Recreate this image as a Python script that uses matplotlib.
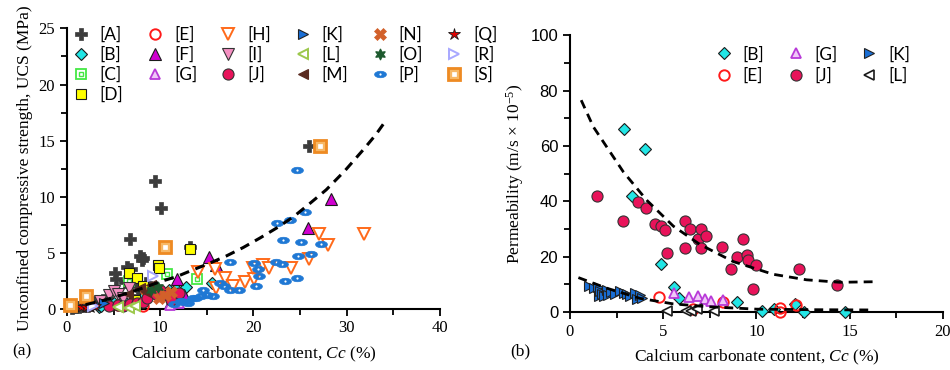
import numpy as np
import matplotlib
matplotlib.use("Agg")
import matplotlib.pyplot as plt
import matplotlib.path as mpath

# ---------------- data, panel (a): UCS vs Cc ----------------
A_x = [0.5, 0.8, 1.0, 1.3, 1.6, 1.9, 2.2, 2.5, 2.8, 3.2, 3.6, 3.9, 4.3, 5.1, 5.3, 6.2, 6.4, 6.9, 6.75, 7.0, 7.5, 7.6, 7.8, 8.0, 8.2, 8.5, 9.4, 10.1, 13.2, 26.0]
A_y = [0.05, 0.1, 0.15, 0.1, 0.2, 0.3, 0.25, 0.35, 0.6, 0.5, 0.55, 0.8, 0.9, 3.2, 2.6, 2.4, 3.75, 3.5, 6.2, 2.9, 2.0, 1.1, 4.7, 4.3, 4.5, 2.3, 11.35, 8.96, 5.5, 14.5]
B_x = [3.4, 3.7, 4.25, 5.0, 5.9, 6.2, 7.0, 8.0, 9.4, 10.9, 11.7, 12.8, 15.5]
B_y = [0.1, 0.25, 0.4, 0.5, 0.6, 0.6, 0.7, 0.9, 1.5, 1.7, 1.75, 1.9, 2.3]
C_x = [6.6, 10.75, 13.9]
C_y = [2.5, 3.1, 2.6]
D_x = [6.6, 7.5, 7.3, 8.2, 9.8, 9.9, 13.2]
D_y = [3.2, 2.7, 0.8, 2.0, 3.9, 3.6, 5.3]
E_x = [5.5, 8.2, 11.4]
E_y = [0.3, 0.25, 0.85]
F_x = [11.0, 11.75, 12.5, 15.2, 16.0, 25.9, 28.3]
F_y = [0.5, 2.6, 1.2, 4.6, 3.9, 7.2, 9.8]
G_x = [11.0, 12.0]
G_y = [0.3, 0.5]
H_x = [8.5, 10.0, 14.0, 15.9, 16.0, 16.9, 17.8, 19.1, 20.1, 20.0, 21.0, 21.7, 24.0, 26.0, 27.0, 28.0, 31.9]
H_y = [1.2, 1.1, 3.3, 3.5, 1.8, 2.7, 2.0, 2.4, 2.6, 3.6, 3.9, 3.6, 3.6, 4.4, 6.7, 5.7, 6.7]
I_x = [3.5, 4.5, 5.0, 5.5, 6.0, 6.6]
I_y = [0.7, 1.2, 1.6, 1.3, 0.9, 1.8]
J_x = [4.5, 5.5, 6.0, 6.8, 7.5, 8.2, 8.6, 9.6, 10.0, 10.7, 11.2, 12.0]
J_y = [0.2, 0.3, 0.25, 0.4, 0.5, 0.6, 0.9, 1.3, 1.7, 1.2, 0.8, 1.4]
K_x = [2.5, 3.2, 4.0]
K_y = [0.3, 0.35, 0.5]
L_x = [5.5, 6.7, 7.3]
L_y = [0.1, 0.05, 0.2]
M_x = [6.5, 7.8, 8.5, 9.0]
M_y = [1.3, 1.8, 1.5, 2.1]
N_x = [9.9, 10.5, 11.2]
N_y = [0.9, 1.2, 1.5]
O_x = [9.0, 9.8]
O_y = [1.7, 1.9]
P_x = [11.5, 12.2, 12.5, 13.0, 13.5, 13.8, 14.4, 14.6, 15.0, 15.7, 16.4, 16.8, 17.5, 17.5, 18.5, 20.1, 20.3, 20.5, 20.6, 22.4, 22.5, 23.1, 23.2, 23.4, 23.9, 24.7, 24.8, 25.1, 25.5, 26.2, 27.2, 24.7]
P_y = [0.4, 0.7, 0.6, 0.5, 0.9, 0.9, 1.1, 1.7, 1.2, 1.1, 2.3, 2.0, 1.7, 4.2, 1.7, 4.05, 2.0, 3.5, 2.9, 4.2, 7.6, 4.0, 6.1, 2.5, 7.9, 2.7, 4.7, 5.9, 8.6, 4.9, 5.8, 12.4]
Q_x = [1.5, 2.0, 2.5, 3.0]
Q_y = [0.1, 0.15, 0.1, 0.2]
R_x = [2.8, 9.25]
R_y = [0.2, 2.9]
S_x = [0.3, 2.0, 10.5, 27.1]
S_y = [0.3, 1.1, 5.5, 14.5]

trend_a_x = [2.0, 4.0, 6.0, 8.0, 10.0, 11.75, 13.5, 15.3, 17.1, 18.9, 20.7, 22.5, 24.3, 26.0, 27.8, 29.8, 31.8, 33.1, 34.3]
trend_a_y = [0.35, 0.75, 1.25, 1.8, 2.4, 2.85, 3.45, 4.05, 4.7, 5.45, 6.3, 7.2, 8.2, 9.35, 10.6, 12.3, 14.2, 15.5, 16.9]

# ---------------- data, panel (b): permeability vs Cc ----------------
Bb_x = [2.89, 3.34, 4.02, 4.89, 5.57, 5.86, 8.93, 10.27, 10.93, 12.09, 12.53, 14.73]
Bb_y = [66.1, 41.9, 58.7, 17.4, 9.1, 4.9, 3.5, 0.4, 1.0, 2.8, 0.0, 0.1]
Eb_x = [4.77, 6.57, 8.21, 11.25, 11.28, 12.1]
Eb_y = [5.5, 1.0, 3.6, 1.5, 0.0, 2.6]
Gb_x = [5.6, 6.36, 6.84, 7.23, 7.54, 8.21]
Gb_y = [6.8, 5.3, 5.8, 4.6, 4.0, 4.2]
Jb_x = [1.46, 2.82, 3.66, 4.07, 4.55, 4.86, 5.12, 5.2, 6.14, 6.14, 6.41, 6.87, 7.03, 7.02, 7.28, 8.14, 8.62, 8.93, 9.28, 9.48, 9.57, 9.98, 9.82, 12.28, 14.3]
Jb_y = [41.9, 33.0, 39.8, 37.7, 31.7, 31.0, 29.6, 21.2, 33.0, 23.2, 29.8, 26.4, 29.8, 23.0, 27.5, 23.6, 15.6, 19.7, 26.5, 20.6, 18.7, 16.9, 8.2, 15.4, 9.8]
Kb_x = [1.0, 1.3, 1.5, 1.55, 1.6, 1.7, 1.85, 2.0, 2.05, 2.2, 2.4, 2.7, 2.9, 3.05, 3.2, 3.5, 3.6, 3.75, 3.85]
Kb_y = [9.3, 8.6, 9.0, 5.6, 7.6, 6.5, 5.8, 7.9, 6.1, 7.2, 6.5, 7.6, 6.8, 6.3, 5.9, 6.9, 4.7, 6.2, 5.1]
Lb_x = [5.2, 6.2, 6.5, 6.8, 7.7]
Lb_y = [0.3, 0.2, 0.5, 0.9, 0.3]

trend_b_hi_x = [0.6, 1.25, 1.96, 2.86, 4.11, 5.54, 6.96, 8.75, 10.89, 12.68, 14.46, 16.3]
trend_b_hi_y = [76.5, 66.9, 59.7, 50.6, 40.4, 31.0, 24.4, 18.2, 13.6, 11.6, 10.7, 10.9]
trend_b_lo_x = [0.45, 1.96, 3.75, 5.54, 7.32, 9.1, 10.0, 13.0, 16.3]
trend_b_lo_y = [12.4, 8.6, 4.9, 2.9, 1.9, 1.3, 1.0, 0.8, 0.7]

labels_a = ["[A]", "[B]", "[C]", "[D]", "[E]", "[F]", "[G]", "[H]", "[I]", "[J]",
            "[K]", "[L]", "[M]", "[N]", "[O]", "[P]", "[Q]", "[R]", "[S]"]
labels_b = ["[B]", "[E]", "[G]", "[J]", "[K]", "[L]"]

# eye-shaped marker for [P]
th = np.linspace(0, 2 * np.pi, 41)
outer = np.column_stack([np.cos(th), 0.55 * np.sin(th)])
inner = np.column_stack([0.25 * np.cos(th[::-1]), 0.25 * np.sin(th[::-1])])
eye = mpath.Path.make_compound_path(mpath.Path(outer, closed=True), mpath.Path(inner, closed=True))

serif = "Liberation Serif"
plt.rcParams["font.family"] = serif
plt.rcParams["mathtext.fontset"] = "custom"
plt.rcParams["mathtext.rm"] = serif
plt.rcParams["mathtext.it"] = serif + ":italic"
legend_font = {"family": "Lato", "size": 12.5}

fig = plt.figure(figsize=(9.5, 3.7), dpi=100)
axa = fig.add_axes([0.0705, 0.166, 0.3926, 0.757])
axb = fig.add_axes([0.600, 0.157, 0.3926, 0.748])

# marker styles per series
styles_a = {
    "[A]": dict(marker="P", ms=8.5, mfc="#3c3c3c", mec="#3c3c3c", mew=0.5),
    "[B]": dict(marker="D", ms=6, mfc="#22e6e6", mec="#1a1a1a", mew=0.8),
    "[C]": dict(marker="s", ms=7.5, mfc="white", mec="#44e844", mew=1.3),
    "[D]": dict(marker="s", ms=7.5, mfc="#ffff00", mec="#1a1a1a", mew=0.8),
    "[E]": dict(marker="o", ms=7.5, mfc="none", mec="#ff1a1a", mew=1.4),
    "[F]": dict(marker="^", ms=8, mfc="#d000d0", mec="#1a1a1a", mew=0.8),
    "[G]": dict(marker="^", ms=7.5, mfc="#f0c8f8", mec="#b83ad8", mew=1.3),
    "[H]": dict(marker="v", ms=8, mfc="white", mec="#ff6a1a", mew=1.4),
    "[I]": dict(marker="v", ms=8, mfc="#f590c2", mec="#333333", mew=0.8),
    "[J]": dict(marker="o", ms=8, mfc="#e8135a", mec="#333333", mew=0.8),
    "[K]": dict(marker=">", ms=7.5, mfc="#1a6fd6", mec="#222222", mew=0.8),
    "[L]": dict(marker="<", ms=7.5, mfc="white", mec="#9cc84c", mew=1.4),
    "[M]": dict(marker="<", ms=7.5, mfc="#5a2a20", mec="#5a2a20", mew=0.8),
    "[N]": dict(marker="X", ms=8, mfc="#d2602a", mec="#d2602a", mew=0.5),
    "[O]": dict(marker=(6, 1, 0), ms=8, mfc="#1d5a2e", mec="#1d5a2e", mew=0.8),
    "[P]": dict(marker=eye, ms=8.5, mfc="#1f78d4", mec="#1f78d4", mew=0.5),
    "[Q]": dict(marker="*", ms=9, mfc="#e00000", mec="#1a1a1a", mew=0.6),
    "[R]": dict(marker=">", ms=7.5, mfc="white", mec="#a8a8ff", mew=1.4),
    "[S]": dict(marker="s", ms=8, mfc="#f7b866", mec="#ee8a22", mew=2.0),
}
inner_a = {
    "[C]": dict(marker="s", ms=3.5, mfc="none", mec="#44e844", mew=1.0),
    "[S]": dict(marker="s", ms=3.0, mfc="white", mec="white", mew=0.5),
}
data_a = {
    "[A]": (A_x, A_y), "[B]": (B_x, B_y), "[C]": (C_x, C_y), "[D]": (D_x, D_y),
    "[E]": (E_x, E_y), "[F]": (F_x, F_y), "[G]": (G_x, G_y), "[H]": (H_x, H_y),
    "[I]": (I_x, I_y), "[J]": (J_x, J_y), "[K]": (K_x, K_y), "[L]": (L_x, L_y),
    "[M]": (M_x, M_y), "[N]": (N_x, N_y), "[O]": (O_x, O_y), "[P]": (P_x, P_y),
    "[Q]": (Q_x, Q_y), "[R]": (R_x, R_y), "[S]": (S_x, S_y),
}

handles = []
for lab in labels_a:
    x, y = data_a[lab]
    h, = axa.plot(x, y, ls="none", clip_on=False, zorder=3, **styles_a[lab])
    if lab in inner_a:
        h2, = axa.plot(x, y, ls="none", clip_on=False, zorder=3, **inner_a[lab])
        h = (h, h2)
    handles.append(h)
axa.plot(trend_a_x, trend_a_y, ls=(0, (3.2, 2.2)), color="black", lw=2.2, zorder=4)

axa.legend(handles, labels_a, ncol=6, loc="upper left", bbox_to_anchor=(-0.005, 1.035),
           frameon=False, handlelength=1.0, handletextpad=0.6, columnspacing=1.3,
           labelspacing=0.22, borderaxespad=0.0, prop=legend_font)

axa.set_xlim(0, 40)
axa.set_ylim(0, 25)
axa.set_xticks([0, 10, 20, 30, 40])
axa.set_xticks(np.arange(0, 41, 5), minor=True)
axa.set_yticks([0, 5, 10, 15, 20, 25])
axa.set_yticks(np.arange(0, 26, 2.5), minor=True)
axa.set_xlabel("Calcium carbonate content, $\\mathit{Cc}$ (%)", fontsize=12.5, labelpad=6)
axa.set_ylabel("Unconfined compressive strength, UCS (MPa)", fontsize=12.5, labelpad=4)

# ---------------- panel (b) ----------------
styles_b = {
    "[B]": (Bb_x, Bb_y, dict(marker="D", ms=6, mfc="#22e6e6", mec="#1a1a1a", mew=0.8)),
    "[E]": (Eb_x, Eb_y, dict(marker="o", ms=7.5, mfc="none", mec="#ff1a1a", mew=1.4)),
    "[G]": (Gb_x, Gb_y, dict(marker="^", ms=7.5, mfc="#f0c8f8", mec="#b83ad8", mew=1.3)),
    "[J]": (Jb_x, Jb_y, dict(marker="o", ms=8, mfc="#e8135a", mec="#333333", mew=0.8)),
    "[K]": (Kb_x, Kb_y, dict(marker=">", ms=7.5, mfc="#1a6fd6", mec="#222222", mew=0.8)),
    "[L]": (Lb_x, Lb_y, dict(marker="<", ms=7, mfc="white", mec="#1a1a1a", mew=1.2)),
}
handles_b = []
for lab in labels_b:
    x, y, st = styles_b[lab]
    h, = axb.plot(x, y, ls="none", clip_on=False, zorder=3, **st)
    handles_b.append(h)
axb.plot(trend_b_hi_x, trend_b_hi_y, ls=(0, (3.2, 2.2)), color="black", lw=2.0, zorder=4)
axb.plot(trend_b_lo_x, trend_b_lo_y, ls=(0, (3.2, 2.2)), color="black", lw=2.0, zorder=4)

axb.legend(handles_b, labels_b, ncol=3, loc="upper left", bbox_to_anchor=(0.37, 0.985),
           frameon=False, handlelength=1.0, handletextpad=0.6, columnspacing=1.3,
           labelspacing=0.3, borderaxespad=0.0, prop=legend_font)

axb.set_xlim(0, 20)
axb.set_ylim(0, 100)
axb.set_xticks([0, 5, 10, 15, 20])
axb.set_xticks(np.arange(0, 20.1, 2.5), minor=True)
axb.set_yticks([0, 20, 40, 60, 80, 100])
axb.set_yticks(np.arange(0, 101, 10), minor=True)
for t in axb.get_yticklabels():
    t.set_family("Liberation Sans")
axb.set_xlabel("Calcium carbonate content, $\\mathit{Cc}$ (%)", fontsize=12.5, labelpad=6)
axb.set_ylabel("Permeability (m/s × 10$^{-5}$)", fontsize=12.5, labelpad=3)

for ax in (axa, axb):
    for s in ("top", "right"):
        ax.spines[s].set_visible(False)
    for s in ("left", "bottom"):
        ax.spines[s].set_linewidth(1.5)
    ax.tick_params(which="major", direction="out", length=5, width=1.3, labelsize=12)
    ax.tick_params(which="minor", direction="out", length=4, width=1.3)

fig.text(0.013, 0.04, "(a)", fontsize=12.5)
fig.text(0.537, 0.04, "(b)", fontsize=12.5)

fig.savefig("out.png", dpi=100)
